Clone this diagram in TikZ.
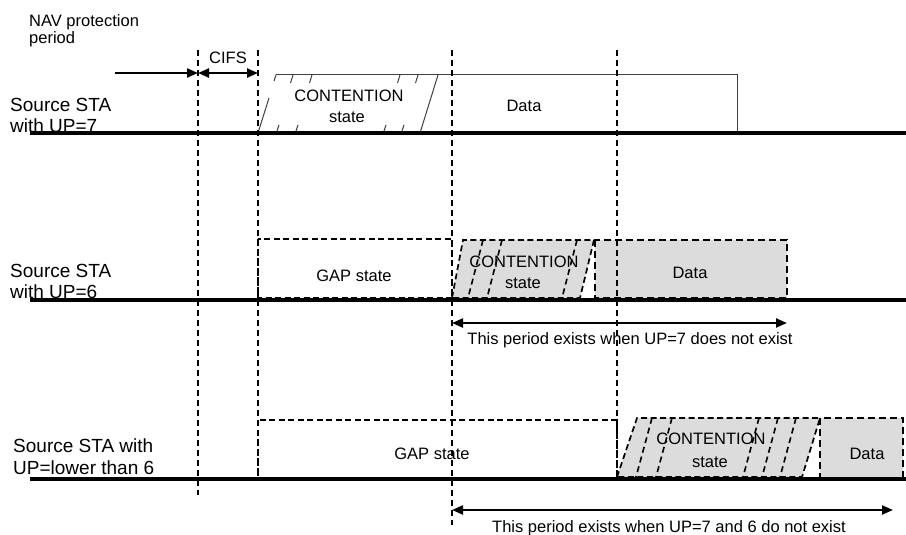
\documentclass[tikz,border=0pt]{standalone}
\usepackage{fontspec}
\setmainfont{Liberation Sans}
\usetikzlibrary{arrows.meta}
\definecolor{boxgray}{HTML}{DCDCDC}
\begin{document}
\begin{tikzpicture}[x=1pt,y=-1pt,
  timeline/.style={line width=3.8pt},
  vdash/.style={line width=2.2pt, dash pattern=on 6pt off 4pt},
  gapbox/.style={line width=1.7pt, dash pattern=on 6pt off 3.5pt},
  databox/.style={line width=2.6pt, dash pattern=on 7pt off 4pt, fill=boxgray},
  contbox/.style={line width=1.7pt, dash pattern=on 6pt off 3.5pt, fill=boxgray},
  hatch/.style={line width=1.6pt, dash pattern=on 6pt off 4pt},
  solidbox/.style={line width=1pt, draw=black!75},
  lbl/.style={font=\fontsize{19}{21}\selectfont, inner sep=0pt, anchor=base west},
  txt/.style={font=\fontsize{16.5}{19}\selectfont, inner sep=0pt, anchor=base},
  arr/.style={line width=2.2pt, -{Triangle[length=11pt,width=9pt]}},
  darr/.style={line width=2.2pt, {Triangle[length=11pt,width=9pt]}-{Triangle[length=11pt,width=9pt]}},
]
\useasboundingbox (0,0) rectangle (906,535);

% ---------- coordinates ----------
\coordinate (v1t) at (198,50);  \coordinate (v1b) at (198,495);
\coordinate (v2t) at (258,50);  \coordinate (v2b) at (258,478);
\coordinate (v3t) at (452,50);  \coordinate (v3b) at (452,525);
\coordinate (v4t) at (617,50);  \coordinate (v4b) at (617,478);
\coordinate (tl1a) at (30,133); \coordinate (tl1b) at (906,133);
\coordinate (tl2a) at (30,300); \coordinate (tl2b) at (906,300);
\coordinate (tl3a) at (30,479); \coordinate (tl3b) at (906,479);
\coordinate (navs) at (115,73); \coordinate (nave) at (198,73);
\coordinate (cifsa) at (198,73); \coordinate (cifsb) at (258,73);
\coordinate (p6a) at (452,323); \coordinate (p6b) at (787,323);
\coordinate (p5a) at (452,510); \coordinate (p5b) at (893,510);

% ---------- row 1 (UP=7) ----------
\draw[solidbox] (258,133) -- (269,98);
\draw[solidbox] (276,75) -- (274,81);
\draw[solidbox] (276,75) -- (737,75) -- (737,133);
\draw[solidbox] (438,75) -- (420,133);
\foreach \x in {293,312,400,418} \draw[solidbox] (\x,75) -- (\x-2.5,83);
\foreach \x in {279,298,386,404} \draw[solidbox] (\x,125) -- (\x-2,131);

% ---------- row 2 (UP=6) ----------
\draw[gapbox] (258,239) rectangle (452,298);
\draw[contbox] (452,298) -- (463,240) -- (594,240) -- (580,298) -- cycle;
\foreach \x in {483,502,577} \draw[hatch] (\x,240) -- (\x-15,298);
\draw[databox] (595,240) rectangle (787,298);

% ---------- row 3 (UP<6) ----------
\draw[gapbox] (258,420) rectangle (617,478);
\draw[contbox] (617,477) -- (637,418) -- (820,418) -- (802,477) -- cycle;
\foreach \x in {652,672,759,778,796} \draw[hatch] (\x,418) -- (\x-16,477);
\draw[databox] (820,418) rectangle (903,478);

% ---------- timelines ----------
\draw[timeline] (tl1a) -- (tl1b);
\draw[timeline] (tl2a) -- (tl2b);
\draw[timeline] (tl3a) -- (tl3b);

% ---------- vertical dashed markers ----------
\draw[vdash] (v1t) -- (v1b);
\draw[vdash] (v2t) -- (v2b);
\draw[vdash] (v3t) -- (v3b);
\draw[vdash] (v4t) -- (v4b);

% ---------- arrows ----------
\draw[arr] (navs) -- (nave);
\draw[darr] (cifsa) -- (cifsb);
\draw[darr] (p6a) -- (p6b);
\draw[darr] (p5a) -- (p5b);

% ---------- texts ----------
\node[txt, anchor=base west] (nav1) at (29,27) {NAV protection};
\node[txt, anchor=base west] (nav2) at (29,44) {period};
\node[txt] (cifs) at (228,64) {CIFS};

\node[lbl] (s7a) at (10,112) {Source STA};
\node[lbl] (s7b) at (10,132) {with UP=7};
\node[txt] (c7a) at (349,102) {CONTENTION};
\node[txt] (c7b) at (347,123) {state};
\node[txt] (d7) at (524,111) {Data};

\node[lbl] (s6a) at (10,277) {Source STA};
\node[lbl] (s6b) at (10,298) {with UP=6};
\node[txt] (g6) at (354,281) {GAP state};
\node[txt] (c6a) at (524,267) {CONTENTION};
\node[txt] (c6b) at (523,288) {state};
\node[txt] (d6) at (690,278) {Data};
\node[txt] (t6) at (630,344) {This period exists when UP=7 does not exist};

\node[lbl] (s5a) at (13,452) {Source STA with};
\node[lbl] (s5b) at (13,474) {UP=lower than 6};
\node[txt] (g5) at (432,459) {GAP state};
\node[txt] (c5a) at (711,444) {CONTENTION};
\node[txt] (c5b) at (710,467) {state};
\node[txt] (d5) at (867,459) {Data};
\node[txt] (t5) at (669,532) {This period exists when UP=7 and 6 do not exist};
\end{tikzpicture}
\end{document}
